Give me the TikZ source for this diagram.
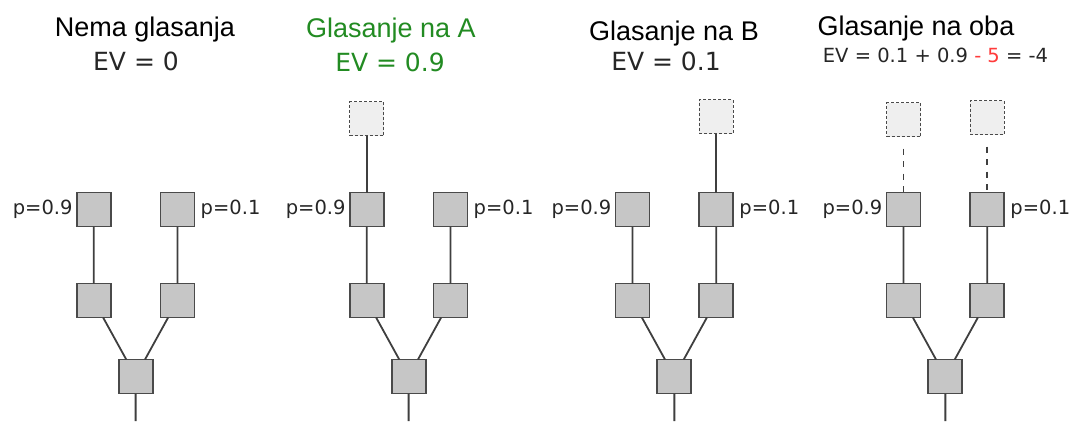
\documentclass[tikz,border=0pt]{standalone}
\usepackage{fontspec}
\usepackage{xcolor}
\usepackage{tikz}
\usetikzlibrary{
	positioning,
	calc
}
\newfontfamily\headfont{Liberation Sans}
\newfontfamily\numfont{DejaVu Sans}
\definecolor{boxgray}{HTML}{C6C6C6}
\definecolor{ghostgray}{HTML}{EFEFEF}
\definecolor{edgegray}{HTML}{4A4A4A}
\definecolor{votegreen}{RGB}{34,139,34}
\definecolor{costred}{HTML}{FF3B3B}

\tikzset{
	block/.style={draw=edgegray,fill=boxgray,line width=1.8pt,minimum size=34pt,inner sep=0pt,outer sep=0pt},
	ghost/.style={block,fill=ghostgray,line width=1.3pt,dash pattern=on 3pt off 2pt},
	wire/.style={draw=edgegray!85!black,line width=1.8pt},
	cut/.style={wire,dash pattern=on 6pt off 6.5pt,dash phase=6pt,shorten <=5.5pt},
	prob/.style={inner sep=0pt,text=black!85,font=\numfont\fontsize{19.5}{22}\selectfont},
	heading/.style={anchor=base,inner sep=0pt,font=\headfont\fontsize{27}{30}\selectfont},
	evtext/.style={anchor=base,inner sep=0pt,text=black!85,font=\numfont\fontsize{25}{28}\selectfont}
}

\begin{document}
\begin{tikzpicture}[x=1pt,y=-1pt]
	\useasboundingbox (0,0) rectangle (1072,421);

	% four copies of the same tree
	\foreach \p/\x in {1/93.75,2/366.75,3/632.5,4/903.5}{
		\draw
			node [block]                    (a\p) at (\x,209.5)       {}
			node [block]                    (b\p) at (\x+83.75,209.5) {}
			node [block,below=57pt of a\p]  (c\p)                     {}
			node [block,below=57pt of b\p]  (d\p)                     {}
			node [prob,left=4pt of a\p]     (pa\p)                    {p=0.9}
			node [prob,right=6pt of b\p]    (pb\p)                    {p=0.1}
		;
		\coordinate (mid\p) at ($(c\p.south)!0.5!(d\p.south)$);
		\node [block,below=42pt of mid\p] (r\p) {};
		\coordinate (e\p) at (r\p.south |- 0,421);
		\draw [wire]
			(a\p) -- (c\p)
			(b\p) -- (d\p)
			(c\p) -- (r\p)
			(d\p) -- (r\p)
			(r\p) -- (e\p)
		;
	}

	% headings
	\node [heading] (h1) at (145,36.5) {Nema glasanja};
	\node [evtext]  (v1) at (136,70.5) {EV = 0};
	\node [heading,text=votegreen] (h2) at (391,37.5) {Glasanje na A};
	\node [evtext,text=votegreen]  (v2) at (390,71.5) {EV = 0.9};
	\node [heading] (h3) at (674,40)   {Glasanje na B};
	\node [evtext]  (v3) at (666,70.5) {EV = 0.1};
	\node [heading] (h4) at (916,35)   {Glasanje na oba};
	\node [evtext,font=\numfont\fontsize{19.5}{22}\selectfont] (v4) at (935.5,62)
		{EV = 0.1 + 0.9 {\color{costred}- 5} = -4};

	% votes
	\node [ghost,above=57pt of a2] (g2)  {};
	\node [ghost,above=59pt of b3] (g3)  {};
	\node [ghost,above=56pt of a4] (g4a) {};
	\node [ghost,above=58pt of b4] (g4b) {};
	\draw [wire] (g2) -- (a2);
	\draw [wire] (g3) -- (b3);
	\draw [cut]  (g4a) -- (a4);
	\draw [cut]  (g4b) -- (b4);
\end{tikzpicture}
\end{document}
